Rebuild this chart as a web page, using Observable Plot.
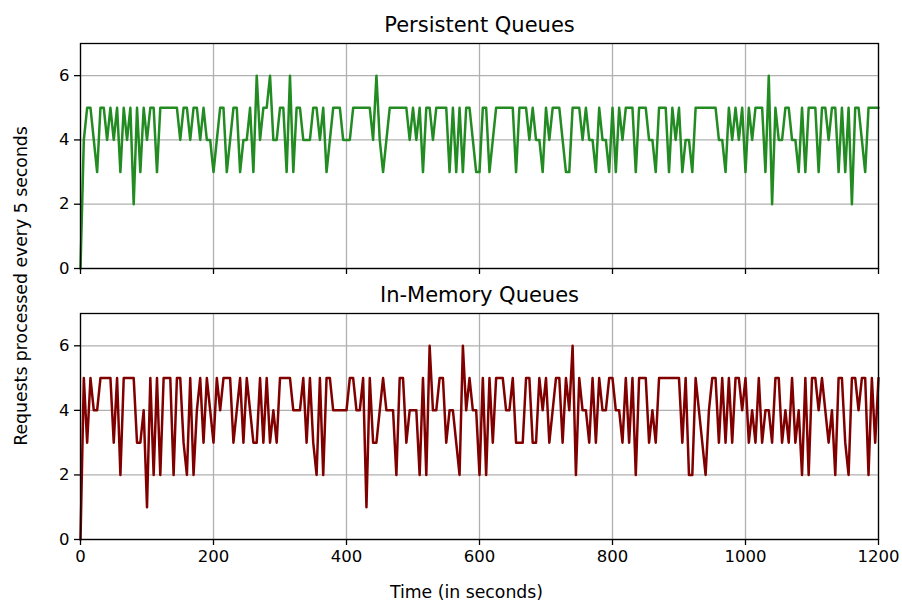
<!DOCTYPE html>
<html>
<head>
<meta charset="utf-8">
<script src="https://cdn.jsdelivr.net/npm/d3@7"></script>
<script src="https://cdn.jsdelivr.net/npm/@observablehq/plot@0.6"></script>
<style>
  html, body { margin: 0; padding: 0; background: #fff; }
  #chart { position: relative; width: 902px; height: 601px; font-family: "DejaVu Sans", sans-serif; overflow: hidden; background: #fff; }
  #chart svg { position: absolute; left: 0; overflow: visible; }
  #ylabel { position: absolute; left: 21px; top: 286px; transform: translate(-50%, -50%) rotate(-90deg); white-space: nowrap; font-size: 17.3px; color: #000; z-index: 5; }
</style>
</head>
<body>
<div id="chart"></div>
<script>
// Requests processed per 5-second interval, t = 0, 5, ..., 1200 s
const persistent = [
  0,4,5,5,4,3,5,5,4,5,
  4,5,3,5,4,5,2,5,3,5,
  4,5,5,3,5,5,5,5,5,5,
  4,5,5,4,5,5,4,5,4,4,
  3,4,5,5,3,4,5,5,3,4,
  4,5,3,6,4,5,5,6,4,4,
  5,5,3,6,3,5,5,4,4,4,
  5,5,4,5,3,4,5,5,5,4,
  4,4,5,5,5,5,5,5,4,6,
  4,3,4,5,5,5,5,5,5,4,
  5,4,5,3,5,5,4,5,5,5,
  5,3,5,3,5,3,5,5,4,3,
  3,5,5,3,4,5,5,5,5,5,
  5,3,5,5,5,4,5,4,4,3,
  5,4,5,5,5,4,3,3,5,5,
  5,4,5,4,4,3,5,4,4,3,
  5,3,5,4,5,5,5,3,5,5,
  5,4,4,3,5,5,5,3,5,4,
  5,3,4,4,3,5,5,5,5,5,
  5,5,4,4,3,5,4,5,4,5,
  3,5,4,5,5,5,3,6,2,5,
  4,4,5,5,4,4,3,5,3,5,
  5,5,3,5,5,4,5,5,3,5,
  3,5,2,5,5,4,3,5,5,5,
  5
];
const inMemory = [
  0,5,3,5,4,4,5,5,5,5,
  3,5,2,5,5,5,5,3,3,4,
  1,5,2,5,2,5,5,5,2,5,
  5,3,2,5,2,4,5,3,5,4,
  3,5,4,5,5,5,3,4,5,3,
  5,4,3,3,5,3,5,3,4,3,
  5,5,5,5,4,4,4,5,3,5,
  3,2,5,2,5,5,4,4,4,4,
  4,5,5,4,4,5,1,5,3,3,
  4,5,4,4,4,2,5,5,3,4,
  4,4,2,5,2,6,4,4,5,5,
  3,4,4,3,2,6,4,5,4,4,
  2,5,2,5,3,5,5,5,4,4,
  5,3,3,3,5,5,3,3,5,4,
  5,3,4,5,5,3,5,4,6,2,
  5,4,4,3,5,3,5,4,4,5,
  5,4,4,3,5,3,5,2,5,5,
  5,3,4,3,5,5,5,5,5,5,
  5,3,5,2,2,5,4,3,2,4,
  5,5,3,5,3,5,3,5,5,4,
  5,3,4,3,5,3,4,4,3,5,
  5,3,4,3,5,3,4,2,5,2,
  5,5,4,5,4,3,4,2,5,5,
  3,2,5,5,4,5,5,2,5,3,
  5
];
const intervalSeconds = 5;
const xTicks = [0, 200, 400, 600, 800, 1000, 1200];
const yTicks = [0, 2, 4, 6];
const titles = ["Persistent Queues", "In-Memory Queues"];
const xLabel = "Time (in seconds)";
const yLabel = "Requests processed every 5 seconds";

const toRows = (vals) => vals.map((v, i) => ({t: i * intervalSeconds, v}));

function panel({values, color, title, height, marginTop, marginBottom, showXLabels}) {
  const marks = [
    Plot.gridX(xTicks, {stroke: "#b0b0b0", strokeOpacity: 1, strokeWidth: 1.3}),
    Plot.gridY(yTicks, {stroke: "#b0b0b0", strokeOpacity: 1, strokeWidth: 1.3}),
    Plot.line(toRows(values), {x: "t", y: "v", stroke: color, strokeWidth: 2.5, strokeLinejoin: "round"}),
    Plot.frame({stroke: "black", strokeWidth: 1.3}),
    Plot.axisY(yTicks, {tickSize: 6, tickPadding: 5, fontSize: 16.5, label: null, stroke: "black", strokeWidth: 1.3}),
    Plot.axisX(xTicks, {tickSize: 6, tickPadding: 5, fontSize: 16.5, label: null, stroke: "black", strokeWidth: 1.3,
      tickFormat: showXLabels ? (d => String(d)) : (() => "")}),
    Plot.text([title], {text: d => d, frameAnchor: "top", dy: -18, fontSize: 21, lineAnchor: "middle", fill: "black"})
  ];
  if (showXLabels) {
    marks.push(Plot.text([xLabel], {text: d => d, frameAnchor: "bottom", dx: -13, dy: 53, fontSize: 17.3, lineAnchor: "middle", fill: "black"}));
  }
  return Plot.plot({
    width: 902,
    height,
    marginLeft: 80,
    marginRight: 24,
    marginTop,
    marginBottom,
    style: {fontFamily: "DejaVu Sans", fontSize: "16.5px", color: "black", background: "transparent"},
    x: {domain: [0, 1200], axis: null},
    y: {domain: [0, 7], axis: null},
    marks
  });
}

const chart = document.getElementById("chart");
const top1 = panel({values: persistent, color: "#228b22", title: titles[0], height: 280, marginTop: 43, marginBottom: 12, showXLabels: false});
top1.style.top = "0px";
const bot = panel({values: inMemory, color: "#800000", title: titles[1], height: 321, marginTop: 33, marginBottom: 62, showXLabels: true});
bot.style.top = "280px";
chart.appendChild(top1);
chart.appendChild(bot);
const yl = document.createElement("div");
yl.id = "ylabel";
yl.textContent = yLabel;
chart.appendChild(yl);
</script>
</body>
</html>
